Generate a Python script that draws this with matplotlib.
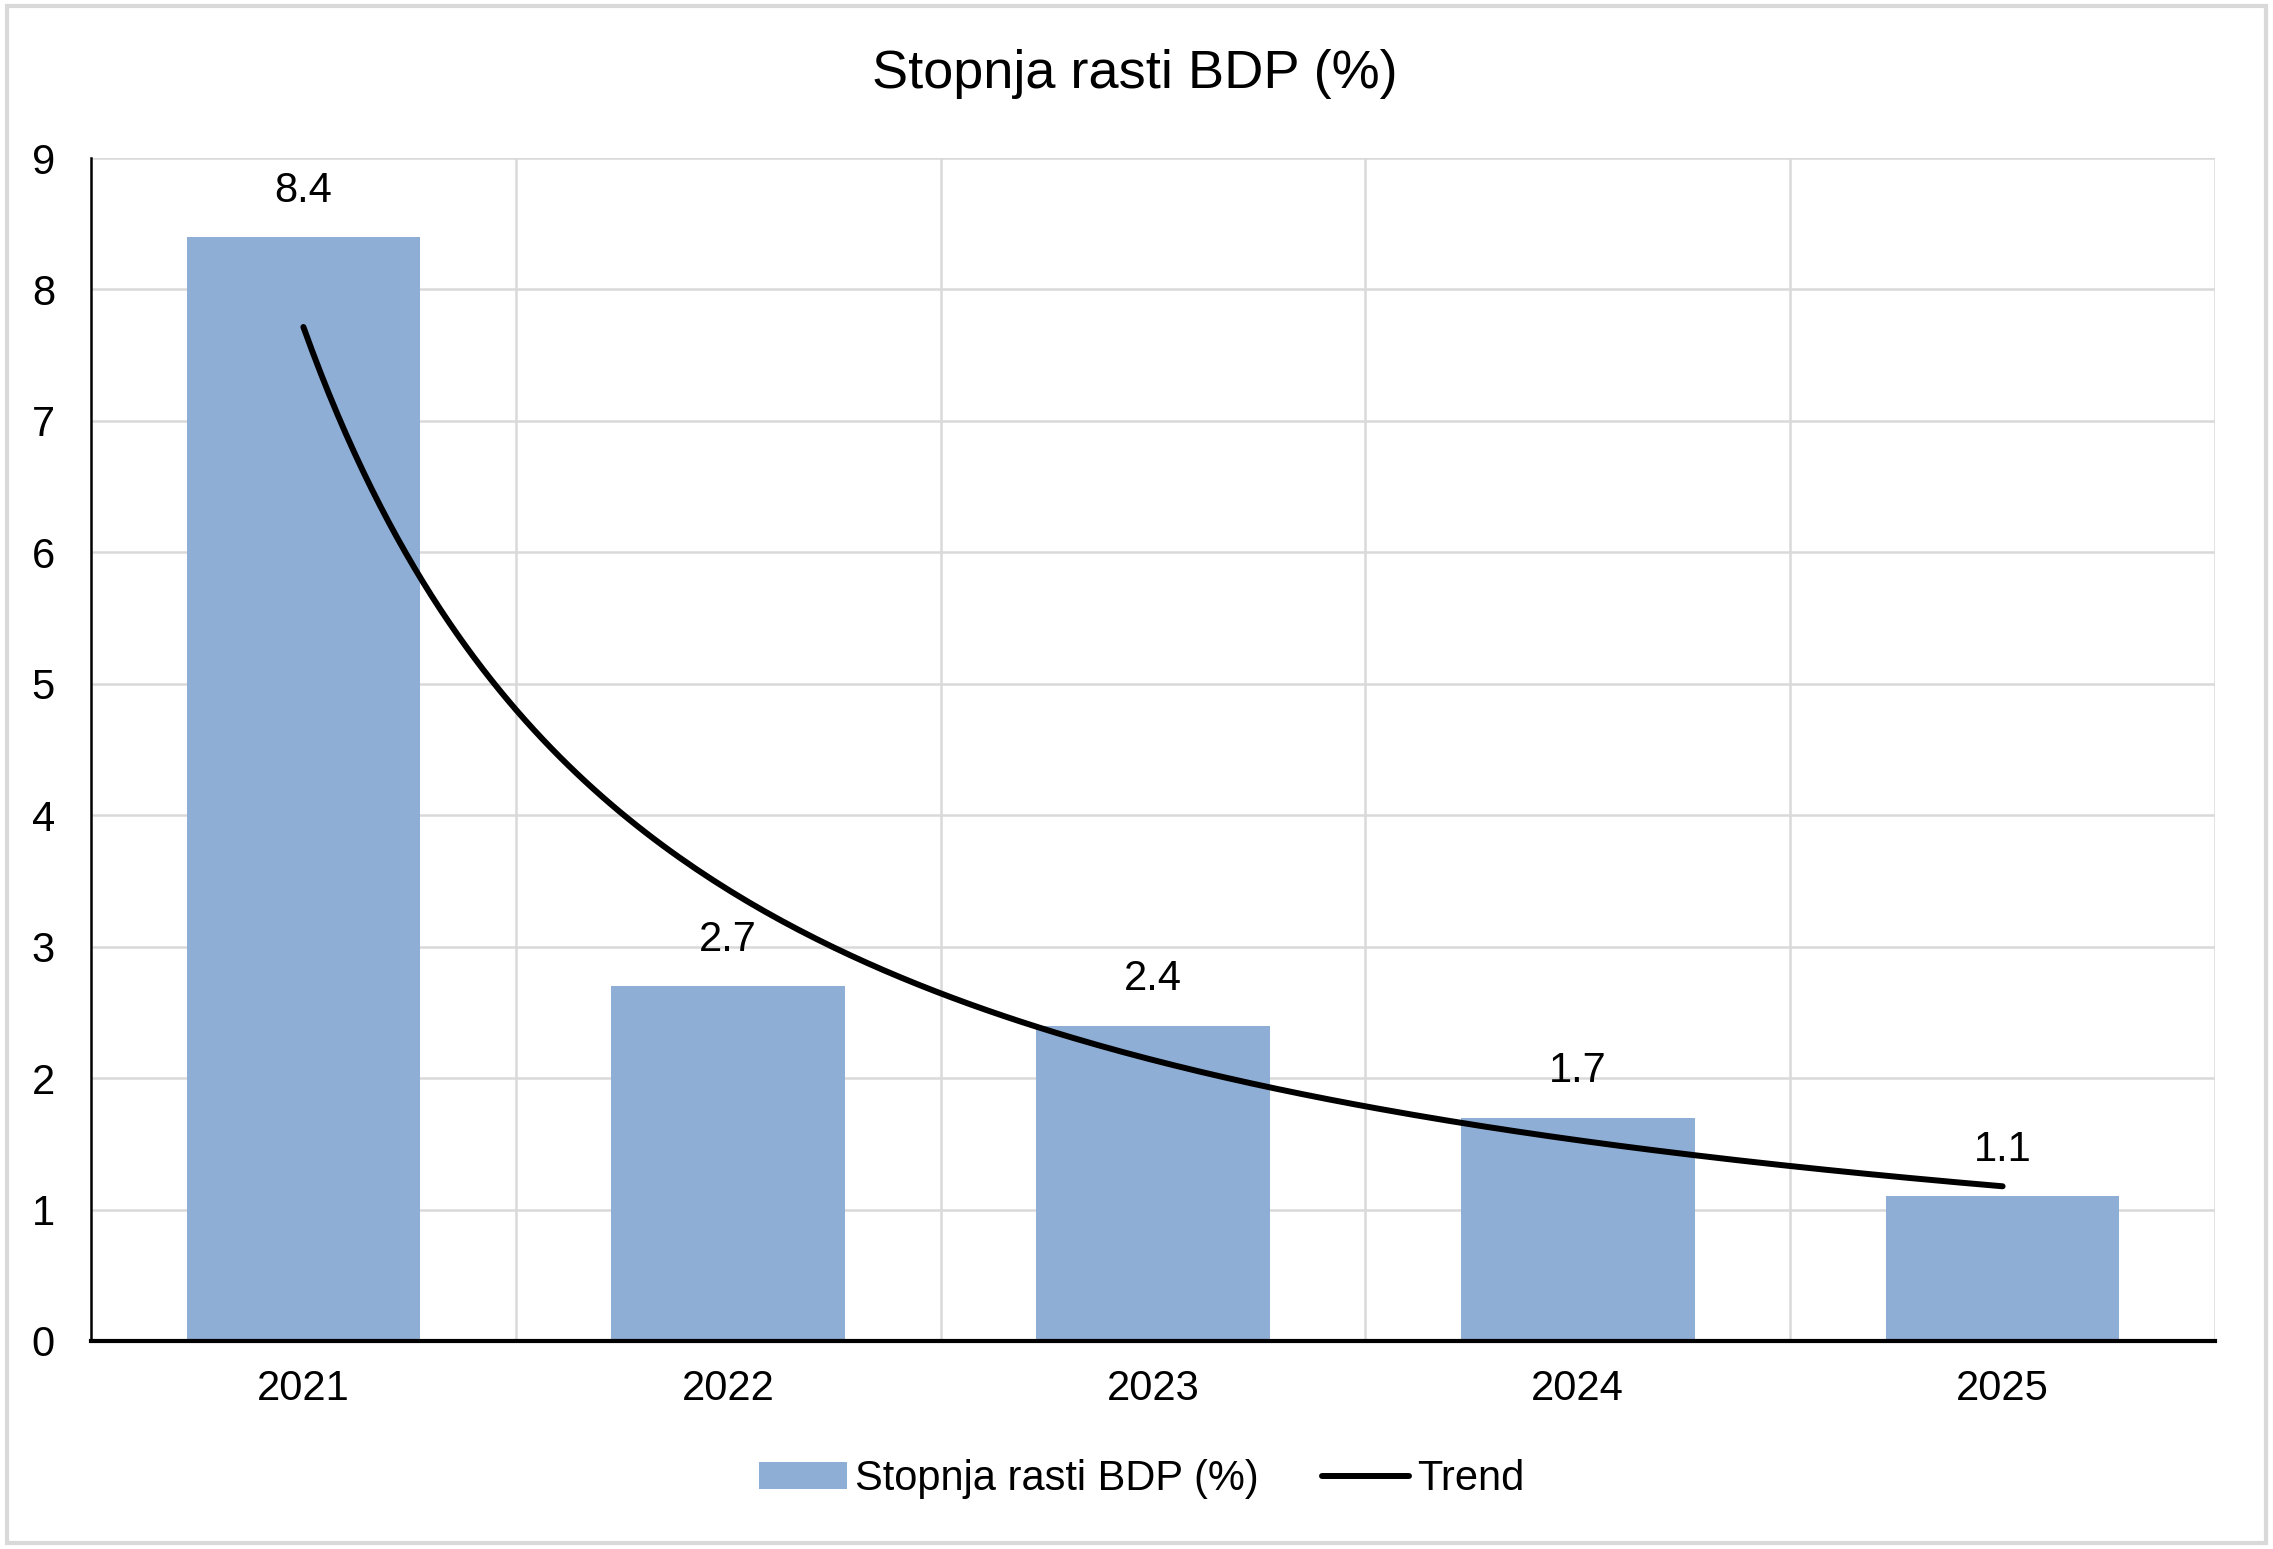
import numpy as np
import matplotlib.pyplot as plt
from matplotlib.patches import Rectangle

# Podatki
leta = ['2021', '2022', '2023', '2024', '2025']
rast_bdp = [8.4, 2.7, 2.4, 1.7, 1.1]
y_ticks = [0, 1, 2, 3, 4, 5, 6, 7, 8, 9]

plt.rcParams['font.family'] = ['Liberation Sans', 'DejaVu Sans']

fig = plt.figure(figsize=(22.73, 15.49), dpi=100)
ax = fig.add_axes([91 / 2273, 1 - 1341 / 1549, (2215 - 91) / 2273, (1341 - 158) / 1549])

x = np.arange(len(leta))
bar_color = '#8eaed5'
bars = ax.bar(x, rast_bdp, width=0.55, color=bar_color, zorder=2, label='Stopnja rasti BDP (%)')

# vrednosti nad stolpci
for xi, v in zip(x, rast_bdp):
    ax.text(xi, v + 0.2, f'{v:.1f}', ha='center', va='bottom', fontsize=30)

# potenčni trend (kot v Excelu): y = a * t^b, t = 1..n
t = x + 1
b, ln_a = np.polyfit(np.log(t), np.log(rast_bdp), 1)
t_fine = np.linspace(1, len(leta), 200)
line, = ax.plot(t_fine - 1, np.exp(ln_a) * t_fine ** b, color='black', lw=4.3,
                solid_capstyle='round', zorder=3, label='Trend')

ax.set_xlim(-0.5, len(leta) - 0.5)
ax.set_ylim(0, 9)
ax.set_yticks(y_ticks)
ax.set_xticks(x)
ax.set_xticklabels(leta)
ax.tick_params(axis='both', length=0, labelsize=30)
ax.tick_params(axis='x', pad=20)
ax.tick_params(axis='y', pad=26)

# mreža
ax.set_axisbelow(True)
ax.yaxis.grid(True, color='#d9d9d9', lw=1.8)
for gx in np.arange(0.5, len(leta), 1.0):
    ax.axvline(gx, color='#d9d9d9', lw=1.8, zorder=0)

for s in ['top', 'right']:
    ax.spines[s].set_visible(False)
ax.spines['left'].set_linewidth(1.8)
ax.spines['bottom'].set_linewidth(3)
ax.spines['bottom'].set_zorder(4)

fig.text(1135 / 2273, 1 - 74 / 1549, 'Stopnja rasti BDP (%)', ha='center', va='center', fontsize=39)

leg = fig.legend([bars, line], ['Stopnja rasti BDP (%)', 'Trend'], loc='center',
                 bbox_to_anchor=(1142 / 2273, 1 - 1479 / 1549), ncol=2, frameon=False,
                 fontsize=30, handlelength=2.1, handleheight=0.6, handletextpad=0.2, columnspacing=1.5)

# okvir slike
fig.patches.append(Rectangle((0.003, 0.004), 0.994, 0.992, transform=fig.transFigure,
                             fill=False, edgecolor='#d9d9d9', lw=3))

fig.savefig('out.png', dpi=100)
